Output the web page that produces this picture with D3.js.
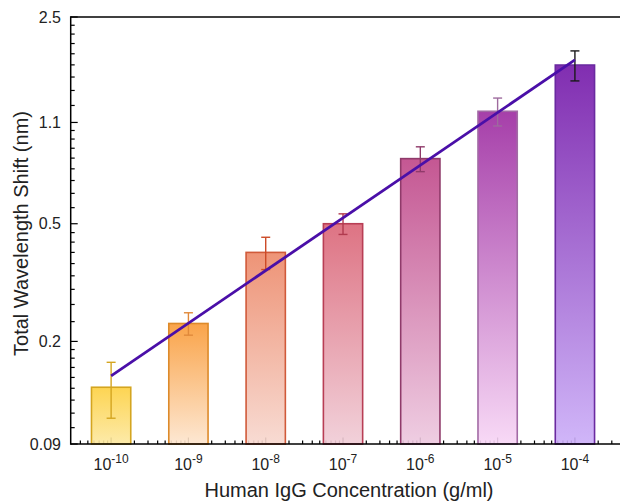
<!DOCTYPE html>
<html>
<head>
<meta charset="utf-8">
<script src="https://cdn.jsdelivr.net/npm/d3@7"></script>
<style>
  body { margin: 0; background: #fff; }
  text { font-family: "Liberation Sans", Arial, sans-serif; fill: #222; }
</style>
</head>
<body>
<script>
// ---- data ----
const concentrations = [1e-10, 1e-9, 1e-8, 1e-7, 1e-6, 1e-5, 1e-4];
const exponents = ["-10", "-9", "-8", "-7", "-6", "-5", "-4"];
const shifts = [0.14, 0.23, 0.40, 0.50, 0.83, 1.20, 1.72];
const errors = [0.03, 0.02, 0.05, 0.04, 0.08, 0.13, 0.20];
const fitX = [1e-10, 1e-4];
const fitY = [0.153, 1.79];
const yTicks = [0.09, 0.2, 0.5, 1.1, 2.5];
const yTickLabels = ["0.09", "0.2", "0.5", "1.1", "2.5"];

// colours per bar: gradient top, gradient bottom, outline, error bar
const topColors = ["#fdd040", "#f99a36", "#ec8868", "#da6476", "#be4587", "#9c2aa0", "#7317a8"];
const bottomColors = ["#fce8a0", "#fde5ce", "#f7d7ce", "#f0ccd6", "#edc8df", "#f7d5f5", "#cbaef8"];
const strokeColors = ["#d4a520", "#dd8a2a", "#d05a3a", "#b83e55", "#8f3a6a", "#a26aa5", "#6a2aa0"];
const errColors = ["#d4a520", "#e0893a", "#cc4a26", "#b03a4e", "#8f3a6a", "#9e6a9e", "#1a1a1a"];

// ---- layout ----
const W = 620, H = 502;
const plotLeft = 70.7, plotTop = 17, plotBottom = 444;
const decadePx = 77.3;
const barHalf = 0.254; // half bar width, in decades

const svg = d3.select("body").append("svg")
  .attr("width", W).attr("height", H);

const x = d3.scaleLog()
  .domain([3e-11, 1e-3])
  .range([plotLeft, plotLeft + Math.log10(1e-3 / 3e-11) * decadePx]);

const y = d3.scaleLog()
  .domain([0.09, 2.5])
  .range([plotBottom, plotTop]);

// gradients
const defs = svg.append("defs");
concentrations.forEach((c, i) => {
  const g = defs.append("linearGradient")
    .attr("id", "grad" + i)
    .attr("x1", 0).attr("y1", 0).attr("x2", 0).attr("y2", 1);
  g.append("stop").attr("offset", "0%").attr("stop-color", topColors[i]);
  g.append("stop").attr("offset", "100%").attr("stop-color", bottomColors[i]);
});

// ---- axes (ticks drawn inward) ----
const axes = svg.append("g").attr("stroke", "#000").attr("fill", "none");

// x minor ticks 2..9 per decade
const xMinor = [];
for (let e = -11; e <= -3; e++) {
  for (let m = 2; m <= 9; m++) {
    const v = m * Math.pow(10, e);
    if (v > x.domain()[0] && v < x.domain()[1]) xMinor.push(v);
  }
}
axes.selectAll(".xminor").data(xMinor).enter().append("line")
  .attr("x1", d => x(d)).attr("x2", d => x(d))
  .attr("y1", plotBottom).attr("y2", plotBottom - 3.5)
  .attr("stroke-width", 1.2);
axes.selectAll(".xmajor").data(concentrations).enter().append("line")
  .attr("x1", d => x(d)).attr("x2", d => x(d))
  .attr("y1", plotBottom).attr("y2", plotBottom - 6.5)
  .attr("stroke-width", 1.2);

// y minor ticks: 8 linear steps between majors
const yMinor = [];
for (let i = 0; i < yTicks.length - 1; i++) {
  const step = (yTicks[i + 1] - yTicks[i]) / 9;
  for (let k = 1; k <= 8; k++) yMinor.push(yTicks[i] + k * step);
}
axes.selectAll(".yminor").data(yMinor).enter().append("line")
  .attr("x1", plotLeft).attr("x2", plotLeft + 4)
  .attr("y1", d => y(d)).attr("y2", d => y(d))
  .attr("stroke-width", 1.2);
axes.selectAll(".ymajor").data(yTicks).enter().append("line")
  .attr("x1", plotLeft).attr("x2", plotLeft + 7)
  .attr("y1", d => y(d)).attr("y2", d => y(d))
  .attr("stroke-width", 1.2);

// ---- bars ----
svg.append("g").selectAll("rect").data(shifts).enter().append("rect")
  .attr("x", (d, i) => x(concentrations[i] / Math.pow(10, barHalf)))
  .attr("width", (d, i) => x(concentrations[i] * Math.pow(10, barHalf)) - x(concentrations[i] / Math.pow(10, barHalf)))
  .attr("y", d => y(d))
  .attr("height", d => plotBottom - y(d))
  .attr("fill", (d, i) => `url(#grad${i})`)
  .attr("fill-opacity", 0.9)
  .attr("stroke", (d, i) => strokeColors[i])
  .attr("stroke-width", 1.6);

// ---- error bars ----
const eb = svg.append("g").attr("stroke-width", 1.4);
shifts.forEach((v, i) => {
  const cx = x(concentrations[i]);
  const col = errColors[i];
  eb.append("line").attr("x1", cx).attr("x2", cx)
    .attr("y1", y(v + errors[i])).attr("y2", y(v - errors[i])).attr("stroke", col);
  [v + errors[i], v - errors[i]].forEach(e => {
    eb.append("line").attr("x1", cx - 4.5).attr("x2", cx + 4.5)
      .attr("y1", y(e)).attr("y2", y(e)).attr("stroke", col);
  });
});

// ---- fit line ----
svg.append("path")
  .datum(fitX.map((d, i) => [d, fitY[i]]))
  .attr("d", d3.line().x(d => x(d[0])).y(d => y(d[1])))
  .attr("fill", "none")
  .attr("stroke", "#4a0fa8")
  .attr("stroke-width", 2.8);

// axis lines on top
svg.append("line").attr("x1", plotLeft).attr("x2", W).attr("y1", plotBottom).attr("y2", plotBottom)
  .attr("stroke", "#000").attr("stroke-width", 1.5);
svg.append("line").attr("x1", plotLeft).attr("x2", W).attr("y1", plotTop).attr("y2", plotTop)
  .attr("stroke", "#000").attr("stroke-width", 1.5);
svg.append("line").attr("x1", plotLeft).attr("x2", plotLeft).attr("y1", plotTop - 0.75).attr("y2", plotBottom + 0.75)
  .attr("stroke", "#000").attr("stroke-width", 1.5);

// ---- tick labels ----
svg.append("g").selectAll("text").data(yTicks).enter().append("text")
  .attr("x", 61).attr("y", d => y(d)).attr("dy", "0.36em")
  .attr("text-anchor", "end").attr("font-size", 16)
  .text((d, i) => yTickLabels[i]);

const xl = svg.append("g").selectAll("text").data(concentrations).enter().append("text")
  .attr("x", d => x(d)).attr("y", 470)
  .attr("text-anchor", "middle").attr("font-size", 16);
xl.append("tspan").text("10");
xl.append("tspan").attr("font-size", 12).attr("dy", -7).text((d, i) => exponents[i]);

// ---- axis titles ----
svg.append("text")
  .attr("x", 349).attr("y", 497)
  .attr("text-anchor", "middle").attr("font-size", 20)
  .text("Human IgG Concentration (g/ml)");

svg.append("text")
  .attr("transform", `translate(28,${(plotTop + plotBottom) / 2 + 3}) rotate(-90)`)
  .attr("text-anchor", "middle").attr("font-size", 20)
  .text("Total Wavelength Shift (nm)");
</script>
</body>
</html>
